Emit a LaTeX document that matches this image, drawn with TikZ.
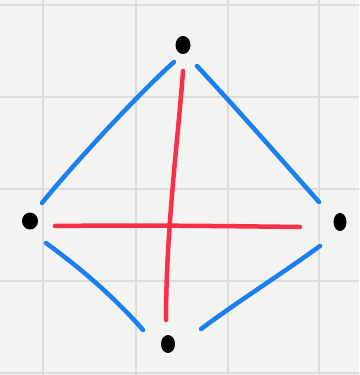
\documentclass[tikz,border=0pt]{standalone}
\usetikzlibrary{shapes.geometric}
\definecolor{paper}{HTML}{F3F3F1}
\definecolor{gridc}{HTML}{DCDCDA}
\definecolor{edgeblue}{HTML}{1A7FF0}
\definecolor{edgered}{HTML}{FA3048}
\tikzset{
  vertexdot/.style={ellipse, fill=black, inner sep=0pt},
  gridline/.style={draw=gridc, line width=2pt},
  blueedge/.style={draw=edgeblue, line width=4.5pt, line cap=round},
  rededge/.style={draw=edgered, line width=4.5pt, line cap=round}
}
\begin{document}
\begin{tikzpicture}[x=1pt,y=-1pt]
\useasboundingbox (0,0) rectangle (359,375);
\fill[paper] (0,0) rectangle (359,375);
% grid
\foreach \gx in {43,136,228,319} \draw[gridline] (\gx,0) -- (\gx,375);
\foreach \gy in {5,97,189,281,373} \draw[gridline] (0,\gy) -- (359,\gy);
% vertices
\node[vertexdot, minimum width=15pt, minimum height=18pt] (top) at (183,45) {};
\node[vertexdot, minimum width=16pt, minimum height=17pt] (left) at (30,221) {};
\node[vertexdot, minimum width=13pt, minimum height=18pt] (right) at (340,222) {};
\node[vertexdot, minimum width=14pt, minimum height=18pt] (bottom) at (168,344) {};
% edge end points
\coordinate (tl1) at (174,62);
\coordinate (tl2) at (42,203);
\coordinate (tr1) at (197,66);
\coordinate (tr2) at (319,202);
\coordinate (lb1) at (46,243);
\coordinate (lb2) at (143,330);
\coordinate (rb1) at (320,246);
\coordinate (rb2) at (201,329);
\coordinate (v1) at (183,71);
\coordinate (v2) at (166,320);
\coordinate (h1) at (55,226);
\coordinate (h2) at (300,227);
% blue edges
\draw[blueedge] (tl1) .. controls (140,92) and (70,168) .. (tl2);
\draw[blueedge] (tr1) .. controls (238,110) and (280,158) .. (tr2);
\draw[blueedge] (lb1) .. controls (72,262) and (110,292) .. (lb2);
\draw[blueedge] (rb1) .. controls (280,275) and (240,300) .. (rb2);
% red edges
\draw[rededge] (v1) .. controls (178,140) and (166,230) .. (v2);
\draw[rededge] (h1) .. controls (140,225) and (220,226) .. (h2);
\end{tikzpicture}
\end{document}
